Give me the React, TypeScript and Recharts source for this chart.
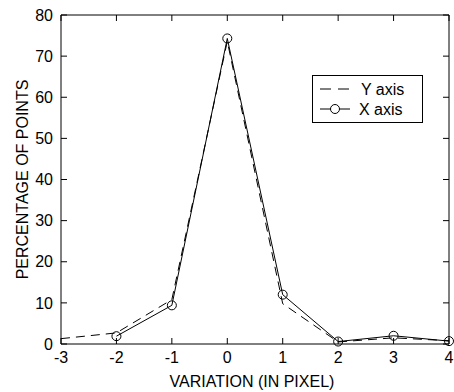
import { Label, Legend, Line, LineChart, XAxis, YAxis } from 'recharts';

const FONT = '"Liberation Sans", Arial, Helvetica, sans-serif';

const variation = [-3, -2, -1, 0, 1, 2, 3, 4];
const yAxisPct = [1.3, 2.7, 10.8, 73.6, 9.8, 0.5, 1.5, 0.8];
const xAxisPct = [null, 1.9, 9.4, 74.3, 12.0, 0.6, 2.0, 0.7];
const xTicks = [-3, -2, -1, 0, 1, 2, 3, 4];
const yTicks = [0, 10, 20, 30, 40, 50, 60, 70, 80];

const data = variation.map((v, i) => ({ v, yAxis: yAxisPct[i], xAxis: xAxisPct[i] }));

const tickStyle = { fill: '#000', fontSize: 16, fontFamily: FONT };

function LegendBox() {
  return (
    <svg width={112} height={48} style={{ display: 'block' }}>
      <rect x={0.5} y={0.5} width={110} height={47} fill="#fff" stroke="#000" strokeWidth={1} />
      <line x1={8} y1={14} x2={38} y2={14} stroke="#000" strokeDasharray="11 7" />
      <text x={49} y={20} fontSize={16} fontFamily={FONT} fill="#000">Y axis</text>
      <line x1={8} y1={34} x2={38} y2={34} stroke="#000" />
      <circle cx={23} cy={34} r={4.5} fill="#fff" stroke="#000" />
      <text x={47} y={40} fontSize={16} fontFamily={FONT} fill="#000">X axis</text>
    </svg>
  );
}

export default function App() {
  return (
    <div style={{ position: 'absolute', left: 0, top: 0, width: 454, height: 392, background: '#fff' }}>
      <LineChart width={454} height={392} data={data} margin={{ top: 14, right: 4, bottom: 0, left: 0 }}>
        <XAxis
          dataKey="v"
          type="number"
          domain={[-3, 4]}
          ticks={xTicks}
          height={48}
          axisLine={{ stroke: '#000' }}
          tickLine={{ stroke: '#000' }}
          tickSize={-6}
          tickMargin={14}
          tick={tickStyle}
          interval={0}
        >
          <Label
            content={({ viewBox }: any) => (
              <text
                x={viewBox.x + viewBox.width / 2 - 3}
                y={viewBox.y + 43}
                textAnchor="middle"
                fontSize={16}
                fontFamily={FONT}
                fill="#000"
              >
                VARIATION (IN PIXEL)
              </text>
            )}
          />
        </XAxis>
        <XAxis
          xAxisId="top"
          dataKey="v"
          orientation="top"
          type="number"
          domain={[-3, 4]}
          ticks={xTicks}
          height={1}
          axisLine={{ stroke: '#000' }}
          tickLine={{ stroke: '#000' }}
          tickSize={-6}
          tick={() => <g />}
          interval={0}
        />
        <YAxis
          type="number"
          domain={[0, 80]}
          ticks={yTicks}
          width={61}
          axisLine={{ stroke: '#000' }}
          tickLine={{ stroke: '#000' }}
          tickSize={-6}
          tickMargin={14}
          tick={tickStyle}
          interval={0}
        >
          <Label
            content={({ viewBox }: any) => (
              <text
                x={22}
                y={viewBox.y + viewBox.height / 2}
                transform={`rotate(-90, 22, ${viewBox.y + viewBox.height / 2})`}
                textAnchor="middle"
                dominantBaseline="central"
                fontSize={16}
                fontFamily={FONT}
                fill="#000"
              >
                PERCENTAGE OF POINTS
              </text>
            )}
          />
        </YAxis>
        <YAxis
          yAxisId="right"
          orientation="right"
          type="number"
          domain={[0, 80]}
          ticks={yTicks}
          width={1}
          axisLine={{ stroke: '#000' }}
          tickLine={{ stroke: '#000' }}
          tickSize={-6}
          tick={() => <g />}
          interval={0}
        />
        <Legend
          layout="horizontal"
          verticalAlign="middle"
          align="center"
          content={() => <LegendBox />}
          wrapperStyle={{ position: 'absolute', left: 312, top: 75, width: 112, height: 48 }}
        />
        <Line
          dataKey="yAxis"
          stroke="#000"
          strokeWidth={1}
          strokeDasharray="9 6"
          dot={false}
          isAnimationActive={false}
        />
        <Line
          dataKey="xAxis"
          stroke="#000"
          strokeWidth={1}
          dot={{ r: 4.5, fill: 'none', stroke: '#000', strokeWidth: 1 }}
          isAnimationActive={false}
        />
        <Line
          xAxisId="top"
          yAxisId="right"
          dataKey="xAxis"
          stroke="none"
          dot={false}
          legendType="none"
          isAnimationActive={false}
        />
      </LineChart>
    </div>
  );
}
